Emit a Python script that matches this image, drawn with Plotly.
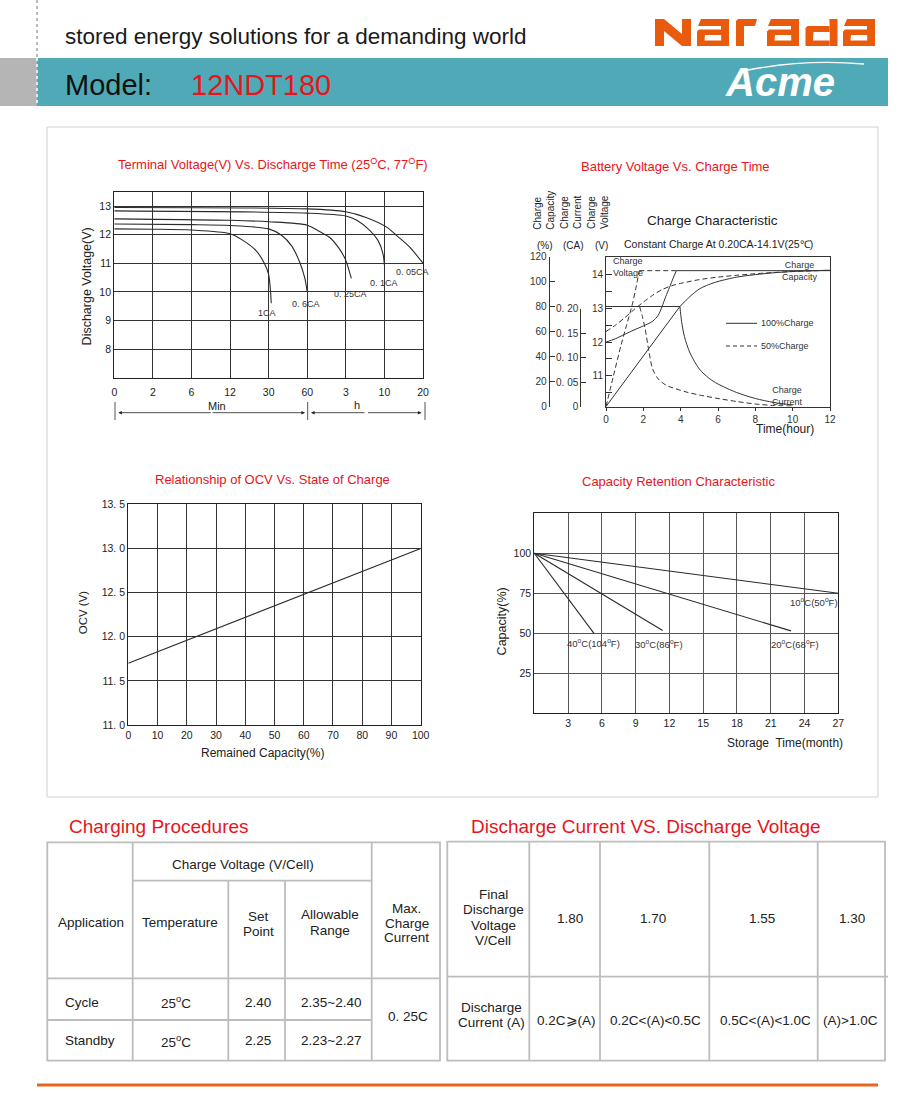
import numpy as np
import plotly.graph_objects as go

W, H = 900, 1094


def px(x):
    return x / W


def py(y):
    return 1 - y / H


FONT = "Liberation Sans, Arial, Helvetica, sans-serif"
RED = "#E8141C"
ORANGE = "#E95A0C"
TEAL = "#50A9B7"
INK = "#222222"
TBL = "#bdbdbd"

# ---------------- Chart 1 : terminal voltage vs discharge time ----------------
t1_tick_min = [0, 2, 6, 12, 30, 60, 180, 600, 1200]
t1_tick_labels = ["0", "2", "6", "12", "30", "60", "3", "10", "20"]
t1_y_ticks = [8, 9, 10, 11, 12, 13]
c1_names = ["1CA", "0. 6CA", "0. 25CA", "0. 1CA", "0. 05CA"]
c1_time = [
    [0, 2, 6, 12, 18, 24, 28, 30, 31.5, 32],
    [0, 6, 12, 30, 40, 48, 54, 58, 60],
    [0, 12, 30, 60, 100, 130, 160, 180, 210, 240],
    [0, 60, 180, 300, 440, 530, 584, 600],
    [0, 60, 180, 400, 630, 800, 990, 1200],
]
c1_volt = [
    [12.2, 12.19, 12.16, 12.03, 11.8, 11.45, 11.0, 10.6, 10.0, 9.6],
    [12.37, 12.35, 12.32, 12.2, 11.98, 11.6, 11.05, 10.5, 10.0],
    [12.55, 12.5, 12.45, 12.33, 12.1, 11.9, 11.5, 11.1, 10.8, 10.47],
    [12.83, 12.75, 12.65, 12.5, 12.15, 11.8, 11.34, 10.93],
    [12.95, 12.9, 12.8, 12.6, 12.27, 11.95, 11.57, 11.0],
]

# ---------------- Chart 2 : charge characteristic ----------------
v100_h = [0, 0.5, 1.0, 1.5, 2.0, 2.5, 2.8, 3.0, 3.2, 3.4, 3.6, 3.77]
v100_v = [12.0, 12.1, 12.23, 12.36, 12.48, 12.62, 12.8, 13.05, 13.35, 13.62, 13.9, 14.12]
v_float_h = [3.77, 12]
v_float_v = [14.12, 14.12]
v50_h = [0, 0.4, 0.8, 1.1, 1.4, 1.6, 1.78]
v50_v = [10.09, 11.0, 11.9, 12.5, 13.1, 13.6, 14.12]
v50_float_h = [1.78, 3.77]
v50_float_v = [14.12, 14.12]
cap100_lin_h = [0, 3.96]
cap100_lin = [0, 80]
cap100_h = [3.96, 4.5, 5.0, 5.5, 6, 7, 8, 9, 10, 11, 12]
cap100 = [80, 88, 94, 97.5, 100, 103.5, 105.5, 107, 108, 108.6, 109]
cap50_h = [0, 0.5, 1, 1.5, 2, 2.5, 3, 3.5, 4, 5, 6, 7, 8, 9, 10, 11, 12]
cap50 = [60, 65, 71, 77.5, 83.5, 89, 93.5, 96.5, 98.5, 101.5, 103.5, 105, 106.2, 107.2, 108, 108.5, 109]
cur100_flat_h = [0, 3.96]
cur100_flat = [0.2, 0.2]
cur100_h = [3.96, 4.05, 4.2, 4.5, 5.0, 5.5, 6, 7, 8, 9, 10]
cur100 = [0.2, 0.17, 0.14, 0.107, 0.075, 0.057, 0.045, 0.028, 0.016, 0.008, 0.003]
cur50_h = [1.8, 1.95, 2.1, 2.3, 2.5, 2.8, 3.2, 3.6, 4.4, 5, 6, 7, 8, 9, 10]
cur50 = [0.2, 0.18, 0.155, 0.11, 0.075, 0.055, 0.043, 0.037, 0.028, 0.023, 0.016, 0.01, 0.005, 0.002, 0.001]
c2_volt_ticks = [11, 12, 13, 14]
c2_cap_ticks = [0, 20, 40, 60, 80, 100, 120]
c2_cur_ticks = [0, 0.05, 0.10, 0.15, 0.20]
c2_cur_labels = ["0", "0. 05", "0. 10", "0. 15", "0. 20"]

# ---------------- Chart 3 : OCV vs state of charge ----------------
ocv_cap = [0, 100]
ocv_v = [11.7, 13.0]
c3_y_ticks = [11.0, 11.5, 12.0, 12.5, 13.0, 13.5]
c3_y_labels = ["11. 0", "11. 5", "12. 0", "12. 5", "13. 0", "13. 5"]

# ---------------- Chart 4 : capacity retention ----------------
ret_names = ["10<sup>o</sup>C(50<sup>o</sup>F)", "20<sup>o</sup>C(68<sup>o</sup>F)",
             "30<sup>o</sup>C(86<sup>o</sup>F)", "40<sup>o</sup>C(104<sup>o</sup>F)"]
ret_month = [[0, 27], [0, 22.8], [0, 11.4], [0, 5.3]]
ret_cap = [[100, 75], [100, 51.5], [100, 51.7], [100, 50]]
c4_x_ticks = [3, 6, 9, 12, 15, 18, 21, 24, 27]
c4_y_ticks = [25, 50, 75, 100]

# ---------------- Tables ----------------
cp_rows = [["Cycle", "25<sup>o</sup>C", "2.40", "2.35~2.40"],
           ["Standby", "25<sup>o</sup>C", "2.25", "2.23~2.27"]]
cp_max_current = "0. 25C"
dv_final_v = ["1.80", "1.70", "1.55", "1.30"]
dv_current = ["0.2C\u2a7e(A)", "0.2C<(A)<0.5C", "0.5C<(A)<1.0C", "(A)>1.0C"]

fig = go.Figure()

for tt, vv in zip(c1_time, c1_volt):
    pos = np.interp(tt, t1_tick_min, np.arange(len(t1_tick_min)))
    fig.add_trace(go.Scatter(x=pos, y=vv, xaxis="x", yaxis="y", mode="lines",
                             line=dict(color="#2a2a2a", width=1.1, shape="spline", smoothing=0.8),
                             hoverinfo="skip", showlegend=False))

DASH = "5px,3px"


def c2(x, y, ax, dash="solid", shape="linear"):
    fig.add_trace(go.Scatter(x=x, y=y, xaxis="x2", yaxis=ax, mode="lines",
                             line=dict(color="#333333", width=1.0, dash=dash, shape=shape, smoothing=0.8),
                             hoverinfo="skip", showlegend=False))


c2(v100_h, v100_v, "y2", shape="spline")
c2(v_float_h, v_float_v, "y2")
c2(v50_h, v50_v, "y2", dash=DASH, shape="spline")
c2(v50_float_h, v50_float_v, "y2", dash=DASH)
c2(cap100_lin_h, cap100_lin, "y3")
c2(cap100_h, cap100, "y3", shape="spline")
c2(cap50_h, cap50, "y3", dash=DASH, shape="spline")
c2(cur100_flat_h, cur100_flat, "y4")
c2(cur100_h, cur100, "y4", shape="spline")
c2(cur50_h, cur50, "y4", dash=DASH, shape="spline")
fig.add_trace(go.Scatter(x=[0], y=[0], xaxis="x2", yaxis="y5", mode="markers",
                         marker=dict(opacity=0), hoverinfo="skip", showlegend=False))

fig.add_trace(go.Scatter(x=ocv_cap, y=ocv_v, xaxis="x3", yaxis="y6", mode="lines",
                         line=dict(color="#2a2a2a", width=1.1), hoverinfo="skip", showlegend=False))

for mm, cc in zip(ret_month, ret_cap):
    fig.add_trace(go.Scatter(x=mm, y=cc, xaxis="x4", yaxis="y7", mode="lines",
                             line=dict(color="#2a2a2a", width=1.1), hoverinfo="skip", showlegend=False))

tickfont = dict(family=FONT, size=10.5, color=INK)
base = dict(zeroline=False, fixedrange=True, showline=True, mirror=True, linecolor=INK,
            automargin=False)

layout = dict(
    width=W, height=H, margin=dict(l=0, r=0, t=0, b=0, pad=0, autoexpand=False),
    paper_bgcolor="white", plot_bgcolor="rgba(0,0,0,0)", showlegend=False,
    font=dict(family=FONT, color=INK),
    xaxis=dict(base, domain=[px(114.3), px(423)], range=[0, 8], tickvals=list(range(9)),
               ticktext=t1_tick_labels, showgrid=True, gridcolor="#333", gridwidth=1.1,
               linewidth=1.3, ticks="", tickfont=tickfont, anchor="y", ticklabelstandoff=5),
    yaxis=dict(base, domain=[py(377.7), py(191.7)], range=[7, 13.5], tickvals=t1_y_ticks,
               showgrid=True, gridcolor="#333", gridwidth=1.1, linewidth=1.3, ticks="",
               tickfont=tickfont, anchor="x"),
    xaxis2=dict(base, domain=[px(606), px(830)], range=[0, 12], dtick=2, showgrid=False,
                linewidth=1, linecolor="#333", ticks="outside", ticklen=3, tickcolor="#333",
                tickfont=dict(family=FONT, size=10, color="#333"), anchor="y2"),
    yaxis2=dict(base, domain=[py(406.5), py(256.5)], range=[10.09, 14.54], tickvals=c2_volt_ticks,
                showgrid=False, linewidth=1, linecolor="#333", ticks="inside", ticklen=6,
                tickcolor="#333", tickfont=dict(family=FONT, size=10, color="#333"),
                minor=dict(tickvals=[10.5, 11.5, 12.5, 13.5], ticks="inside", ticklen=6,
                           tickcolor="#333", showgrid=False),
                anchor="x2"),
    yaxis3=dict(zeroline=False, fixedrange=True, overlaying="y2", anchor="free", position=px(548.7),
                side="left", range=[0, 120], tickvals=c2_cap_ticks, showgrid=False, showline=True,
                linecolor="#333", linewidth=1, ticks="inside", ticklen=5, tickcolor="#333",
                automargin=False, tickfont=dict(family=FONT, size=10, color="#333")),
    yaxis4=dict(overlaying="y2", range=[0, 0.30], visible=False, fixedrange=True),
    yaxis5=dict(zeroline=False, fixedrange=True, domain=[py(406.5), py(308.7)], anchor="free",
                position=px(580.3), side="left", range=[0, 0.2], tickvals=c2_cur_ticks,
                ticktext=c2_cur_labels, showgrid=False, showline=True, linecolor="#333",
                linewidth=1, ticks="inside", ticklen=5, tickcolor="#333", automargin=False,
                tickfont=dict(family=FONT, size=10, color="#333")),
    xaxis3=dict(base, domain=[px(128.3), px(420.7)], range=[0, 100], dtick=10, showgrid=True,
                gridcolor="#333", gridwidth=1.1, linewidth=1.3, ticks="", tickfont=tickfont,
                anchor="y6"),
    yaxis6=dict(base, domain=[py(725), py(504.3)], range=[11, 13.5], tickvals=c3_y_ticks,
                ticktext=c3_y_labels, showgrid=True, gridcolor="#333", gridwidth=1.1,
                linewidth=1.3, ticks="", tickfont=tickfont, anchor="x3"),
    xaxis4=dict(base, domain=[px(534.3), px(838.3)], range=[0, 27], tickvals=c4_x_ticks,
                showgrid=True, gridcolor="#555", gridwidth=1, linewidth=1.2, ticks="",
                tickfont=tickfont, anchor="y7"),
    yaxis7=dict(base, domain=[py(713.3), py(513.3)], range=[0, 125], tickvals=c4_y_ticks,
                showgrid=True, gridcolor="#555", gridwidth=1, linewidth=1.2, ticks="",
                tickfont=tickfont, anchor="x4"),
)

shapes = []
ann = []


def rect(x0, y0, x1, y1, fill=None, line=None, lw=0, layer="below"):
    shapes.append(dict(type="rect", xref="paper", yref="paper", x0=px(x0), x1=px(x1),
                       y0=py(y1), y1=py(y0), fillcolor=fill or "rgba(0,0,0,0)",
                       line=dict(color=line or "rgba(0,0,0,0)", width=lw), layer=layer))


def seg(x0, y0, x1, y1, color=TBL, width=1.8, dash="solid"):
    shapes.append(dict(type="line", xref="paper", yref="paper", x0=px(x0), y0=py(y0),
                       x1=px(x1), y1=py(y1), line=dict(color=color, width=width, dash=dash)))


def poly(pts, fill):
    d = "M " + " L ".join(f"{px(a):.5f},{py(b):.5f}" for a, b in pts) + " Z"
    shapes.append(dict(type="path", xref="paper", yref="paper", path=d, fillcolor=fill,
                       line=dict(width=0), layer="above"))


def txt(x, y, s, size=12, color=INK, xanchor="center", angle=0, family=FONT, align="center"):
    ann.append(dict(x=px(x), y=py(y), xref="paper", yref="paper", text=s, showarrow=False,
                    font=dict(size=size, color=color, family=family), xanchor=xanchor,
                    yanchor="middle", textangle=angle, align=align))


# ---------- header ----------
rect(37, 58, 888, 106, fill=TEAL)
rect(0, 58, 37, 106, fill="#b5b5b5")
seg(37, 0, 37, 58, color="#bbbbbb", width=2, dash="dot")
seg(37, 58, 37, 106, color="#e8e8e8", width=2, dash="dot")
txt(63, 36, "stored energy solutions for a demanding world", size=22.5, color="#1a1a1a",
    xanchor="left", family=FONT)
txt(63, 85, "Model:", size=29, color="#111", xanchor="left")
txt(189, 85, "12NDT180", size=29, color=RED, xanchor="left")

# Narada logo
poly([(655, 46), (655, 19), (664, 19), (682, 34), (682, 19), (691, 19), (691, 46), (682, 46), (664, 31), (664, 46)], ORANGE)
for x0 in (697, 767, 843):
    poly([(x0 + 4, 19), (x0 + 32, 19), (x0 + 32, 46), (x0 + 24, 46), (x0 + 24, 26), (x0 + 1, 26)], ORANGE)
    poly([(x0 + 2, 29.5), (x0 + 24, 29.5), (x0 + 24, 46), (x0, 46), (x0, 31.5)], ORANGE)
    poly([(x0 + 8, 35), (x0 + 24.2, 35), (x0 + 24.2, 40.5), (x0 + 7.5, 40.5)], "white")
poly([(736, 46), (736, 21), (738, 19), (757, 19), (755, 26), (744, 26), (744, 46)], ORANGE)
x0 = 805.5
poly([(x0 + 24, 19), (x0 + 32, 19), (x0 + 32, 46), (x0 + 24, 46)], ORANGE)
poly([(x0 + 2, 26), (x0 + 24, 26), (x0 + 24, 46), (x0, 46), (x0, 28)], ORANGE)
poly([(x0 + 8, 32), (x0 + 24.2, 32), (x0 + 24.2, 40.5), (x0 + 7.5, 40.5)], "white")

# Acme logo
txt(780, 82, "<b><i>Acme</i></b>", size=40, color="white")
shapes.append(dict(type="path", xref="paper", yref="paper",
                   path=f"M {px(748)},{py(70)} Q {px(805)},{py(59)} {px(864)},{py(64)}",
                   line=dict(color="white", width=1.3)))

rect(47, 127, 878, 797, line="#d0d0d0", lw=1)

# ---------- chart 1 texts ----------
txt(273.3, 164, "Terminal Voltage(V) Vs. Discharge Time (25<sup>O</sup>C, 77<sup>O</sup>F)", size=13, color=RED)
txt(86.7, 286.7, "Discharge Voltage(V)", size=12.5, angle=-90)
c1_label_pos = [(267, 313.3), (306, 304), (350, 294.3), (384, 282.7), (412.7, 272.3)]
for (lx, ly), name in zip(c1_label_pos, c1_names):
    txt(lx, ly, name, size=9, color="#333")
txt(216.7, 406, "Min", size=11)
txt(356.7, 405, "h", size=11)
for xb in (115, 307.7, 425):
    seg(xb, 402, xb, 420, color="#555", width=1)
for tip, tail_dx in ((118.3, 94), (305.0, -94), (311.0, 55), (421.5, -55)):
    ann.append(dict(x=px(tip), y=py(412.7), xref="paper", yref="paper", ax=tail_dx, ay=0,
                    axref="pixel", ayref="pixel", showarrow=True, arrowhead=2, arrowsize=0.9,
                    arrowwidth=0.8, arrowcolor=INK, text="", standoff=0))

# ---------- chart 2 texts ----------
txt(675, 166, "Battery Voltage Vs. Charge Time", size=13, color=RED)
txt(543.7, 210, "Charge<br>Capacity", size=10, angle=-90, align="left")
txt(571, 212, "Charge<br>Current", size=10, angle=-90, align="left")
txt(598, 212, "Charge<br>Voltage", size=10, angle=-90, align="left")
txt(545, 245, "(%)", size=10)
txt(573, 245, "(CA)", size=10)
txt(601, 245, "(V)", size=10)
txt(712.5, 220, "Charge Characteristic", size=13.5)
txt(718.3, 244.3, "Constant Charge At 0.20CA-14.1V(25\u2103)", size=10.5)
txt(611, 267, "Charge<br>Voltage", size=9, xanchor="left", align="left", color="#333")
txt(800, 271, "Charge<br>Capacity", size=9, color="#333")
txt(787.5, 396, "Charge<br>Current", size=9, color="#333")
seg(726, 323.3, 757, 323.3, color="#333", width=1)
txt(759.3, 323.3, "100%Charge", size=9, xanchor="left", color="#333")
seg(726, 346, 757, 346, color="#333", width=1, dash="4px,3px")
txt(759.3, 346, "50%Charge", size=9, xanchor="left", color="#333")
txt(785, 428.5, "Time(hour)", size=12)

# ---------- chart 3 texts ----------
txt(272.3, 480, "Relationship of OCV Vs. State of Charge", size=13, color=RED)
txt(83.3, 612, "OCV (V)", size=11.5, angle=-90)
txt(262.7, 752.7, "Remained Capacity(%)", size=12)

# ---------- chart 4 texts ----------
txt(678.3, 481.7, "Capacity Retention Characteristic", size=13, color=RED)
txt(501.7, 621.7, "Capacity(%)", size=12.5, angle=-90)
txt(784.8, 743.3, "Storage  Time(month)", size=12)
ret_label_pos = [(813.7, 601.7), (795, 644), (659.3, 644), (593.8, 643.3)]
for (lx, ly), name in zip(ret_label_pos, ret_names):
    txt(lx, ly, name, size=9.5, color="#333")

# ---------- tables ----------
txt(66.7, 826.7, "Charging Procedures", size=19, color=RED, xanchor="left")
txt(469.3, 826, "Discharge Current VS. Discharge Voltage", size=19, color=RED, xanchor="left")

L1, R1, T1, B1 = 47.3, 440, 842.3, 1060.7
rect(L1, T1, R1, B1, line=TBL, lw=1.8, layer="above")
seg(132.7, T1, 132.7, B1)
seg(228.3, 880.7, 228.3, B1)
seg(285, 880.7, 285, B1)
seg(371.7, T1, 371.7, B1)
seg(132.7, 880.7, 371.7, 880.7)
seg(L1, 978.3, R1, 978.3)
seg(L1, 1020, 371.7, 1020)
TS = 13.5
txt(243.3, 864, "Charge Voltage (V/Cell)", size=TS)
txt(90.7, 922.7, "Application", size=TS)
txt(180, 922.7, "Temperature", size=TS)
txt(258.3, 916.2, "Set", size=TS)
txt(258.3, 931, "Point", size=TS)
txt(330, 914.8, "Allowable", size=TS)
txt(330, 930.2, "Range", size=TS)
txt(406.7, 908.7, "Max.", size=TS)
txt(406.7, 923.3, "Charge", size=TS)
txt(406.7, 937.8, "Current", size=TS)
row_y = [1002.3, 1040.7]
col_x = [(62.7, "left"), (176, "center"), (258, "center"), (330.5, "center")]
for ry, row in zip(row_y, cp_rows):
    for (cx, anc), val in zip(col_x, row):
        txt(cx, ry, val, size=TS, xanchor=anc)
txt(408, 1016.7, cp_max_current, size=TS)

L2, R2, T2, B2 = 447.3, 885, 841.7, 1060.7
rect(L2, T2, R2, B2, line=TBL, lw=1.8, layer="above")
for cx in (529.3, 600, 709.3, 817.7):
    seg(cx, T2, cx, B2)
seg(L2, 976.7, 888, 976.7)
for ly, s in zip((894, 909.3, 925, 940), ("Final", "Discharge", "Voltage", "V/Cell")):
    txt(493.3, ly, s, size=TS)
txt(491, 1007.3, "Discharge", size=TS)
txt(491, 1022, "Current (A)", size=TS)
for cx, val in zip((570, 652.7, 761.7, 851.7), dv_final_v):
    txt(cx, 918.3, val, size=TS)
for cx, val in zip((566.7, 655, 765, 850.7), dv_current):
    txt(cx, 1020.7, val, size=TS)

seg(37, 1085, 878, 1085, color="#E9641E", width=3)

layout["shapes"] = shapes
layout["annotations"] = ann
fig.update_layout(**layout)

PAGE_FIX = (
    "document.documentElement.style.margin='0';"
    "document.documentElement.style.overflow='hidden';"
    "document.body.style.margin='0';"
    "document.body.style.overflow='hidden';"
    "var gd=document.getElementsByClassName('plotly-graph-div')[0];"
    "gd.style.position='fixed';gd.style.left='0px';gd.style.top='0px';"
)
fig.write_html("out.html", config={"displayModeBar": False}, post_script=PAGE_FIX)
